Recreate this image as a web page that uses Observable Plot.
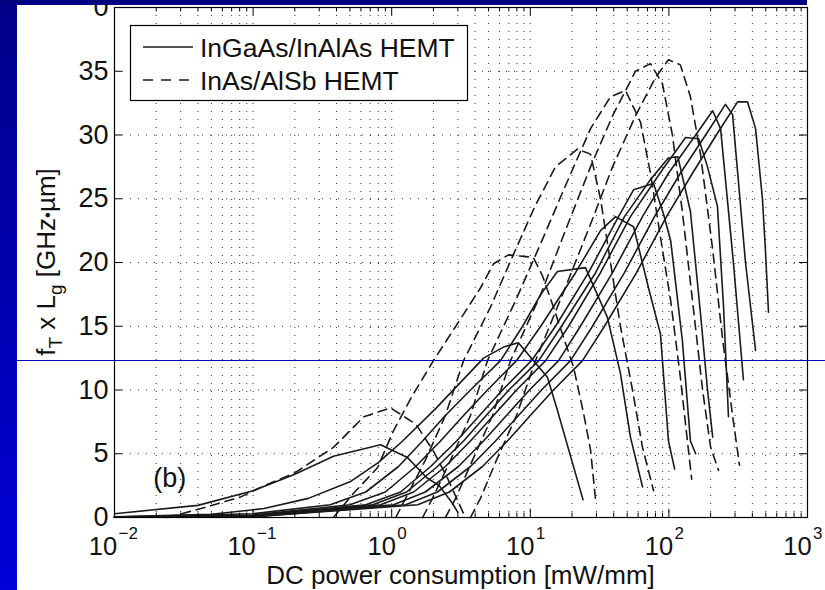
<!DOCTYPE html>
<html><head><meta charset="utf-8">
<script src="https://cdn.jsdelivr.net/npm/d3@7"></script>
<script src="https://cdn.jsdelivr.net/npm/@observablehq/plot@0.6"></script>
<style>
html,body{margin:0;padding:0;background:#fff;}
#wrap{position:relative;width:825px;height:590px;overflow:hidden;background:#fff;}
#stripe{position:absolute;left:0;top:0;width:17px;height:590px;background:linear-gradient(#000088,#0000d8);}
#banner{position:absolute;left:0;top:0;width:807px;height:5px;background:#000080;}
#hline{position:absolute;left:17px;top:359.5px;width:808px;height:1.4px;background:#0000c0;}
</style></head><body>
<div id="wrap"><div id="chart"></div><div id="stripe"></div><div id="banner"></div><div id="hline"></div></div>
<script>
// ---- InGaAs/InAlAs HEMT (solid) : [power mW/mm, fT x Lg GHz·µm]
const s1 = [[0.01,0.3],[0.04,0.95],[0.1,2.1],[0.2,3.4],[0.38,4.8],[0.83,5.7],[1.3,4.7],[1.8,3.1],[2.2,2.5],[2.75,1.1],[3.0,0.4]];
const s2 = [[0.01,0.05],[0.05,0.25],[0.12,0.7],[0.25,1.5],[0.5,2.8],[0.8,4.3],[1.2,6.0],[2.1,8.6],[4.6,12.5],[6.5,13.4],[8.2,13.7],[13.3,11.0],[15.7,8.4],[24,1.4]];
const s3 = [[0.01,0.03],[0.1,0.3],[0.36,1],[0.65,2],[1.12,4],[1.67,6],[2.44,8],[3.7,10],[6.1,12.3],[8.8,15],[11.9,17.5],[15.7,19.3],[25,19.6],[36,15.7],[44.7,11.3],[52.8,6.3],[64.5,2.4]];
const s4 = [[0.01,0.02],[0.1,0.2],[0.5,1],[0.9,2],[1.49,4],[2.25,6],[3.3,8],[4.91,10],[7.95,12.3],[11.9,15],[21.2,19.2],[32.1,22.5],[41.2,23.6],[55.6,22.8],[71.3,18.0],[86.9,14.4],[99.3,6.0],[110,3.8]];
const s5 = [[0.01,0.02],[0.1,0.15],[0.65,1],[1.16,2],[1.91,4],[2.94,6],[4.3,8],[6.3,10],[10.2,12.3],[15.2,15],[26.3,19.2],[43.3,23.6],[55.6,25.7],[77.5,26.2],[91.4,23.8],[103,21.7],[125,13.9],[143,6.0],[156,5.0]];
const s6 = [[0.01,0.02],[0.1,0.12],[0.73,1],[1.28,2],[2.14,4],[3.3,6],[4.8,8],[7.0,10],[11.5,12.3],[16.8,15],[29.6,19.2],[47.8,23.6],[73.6,26.5],[99,28.2],[116,28.3],[143,24],[169,16],[190,10],[207,6.3]];
const s7 = [[0.01,0.02],[0.1,0.1],[0.83,1],[1.44,2],[2.44,4],[3.7,6],[5.43,8],[7.95,10],[12.9,12.3],[18.9,15],[32.1,19.2],[52.8,23.6],[90,27.3],[132,29.8],[164,29.7],[190,27.5],[224,24.4],[248,16.5],[269,7.9]];
const s8 = [[0.01,0.02],[0.1,0.08],[1.03,1],[1.75,2],[3.03,4],[4.6,6],[6.73,8],[9.87,10],[16.0,12.3],[23.0,15],[39.2,19.2],[64.5,23.6],[99.3,27],[156,30],[207,31.9],[236,30.5],[292,20],[345,10.8]];
const s9 = [[0.01,0.02],[0.1,0.06],[1.26,1],[2.14,2],[3.7,4],[5.61,6],[8.22,8],[12.05,10],[19.5,12.3],[28.1,15],[47.8,19.2],[78.7,23.6],[121,27],[184,30],[256,32.4],[288,31.6],[357,20],[422,13.1]];
const s10 = [[0.01,0.02],[0.1,0.05],[1.54,1],[2.61,2],[4.52,4],[6.84,6],[10.0,8],[14.7,10],[23.8,12.3],[34.3,15],[58.4,19.2],[96.1,23.6],[148,27],[220,30],[313,32.6],[369,32.6],[422,30.5],[473,25],[497,21],[523,16.1]];
// ---- InAs/AlSb HEMT (dashed)
const d1 = [[0.024,0.0],[0.042,0.7],[0.081,1.6],[0.11,2.3],[0.2,3.5],[0.38,5.5],[0.63,7.9],[0.98,8.6],[1.5,7.3],[2.0,5.2],[2.5,3.2],[3.0,1.3],[3.4,0]];
const d2 = [[0.38,0],[0.53,1.9],[0.79,3.9],[1.03,6.8],[1.4,9.5],[2.0,12.3],[2.98,15.2],[4.37,18],[5.43,19.9],[6.96,20.6],[10.5,20.4],[12.2,19.0],[14.7,16.5],[17.4,14.1],[20.5,11.8],[24.2,8.2],[27.2,5.3],[29.5,1.5]];
const d3 = [[1.07,0],[1.26,1.5],[1.75,4.5],[2.44,8],[3.3,12.3],[5.16,16.5],[7.82,21],[10.9,24.5],[15.2,27.5],[21.9,28.9],[27.2,28.5],[32.1,25],[37.9,20],[44.7,15],[54.6,10],[64.5,5.5],[77.5,2.1]];
const d4 = [[1.67,0],[1.97,1.5],[2.66,4.5],[3.7,8],[4.91,12.3],[7.82,17],[11.9,21.5],[17.9,26],[27.2,30.5],[37.9,33],[48.6,33.5],[62.4,31],[73.6,27],[86.9,22],[103,17],[121,11],[136,6],[146,3.0]];
const d5 = [[2.44,0],[2.89,1.5],[3.83,4.5],[5.34,8],[7.2,12.3],[11.9,17.5],[17.9,22.5],[27.2,27.5],[39.2,31.5],[57.4,35],[73.6,35.6],[89.9,34],[106,30],[125,24],[148,17],[175,10],[200,5.5],[228,3.7]];
const d6 = [[3.7,0],[4.37,1.5],[5.7,4.5],[7.95,8],[10.9,12.3],[17.1,17.5],[27.2,23],[39.2,27.5],[57.4,31.5],[80,34.5],[99.3,35.9],[121,35.5],[143,33],[169,28.5],[207,21],[244,14],[288,8],[323,4.1]];

const solidSeries = [s1,s2,s3,s4,s5,s6,s7,s8,s9,s10];
const dashedSeries = [d1,d2,d3,d4,d5,d6];
const legendLabels = ["InGaAs/InAlAs HEMT","InAs/AlSb HEMT"];

const xMajorTicks = [0.01,0.1,1,10,100,1000];
const xExponents = ["\u22122","\u22121","0","1","2","3"];
const xMinorTicks = [0.02,0.03,0.04,0.05,0.06,0.07,0.08,0.09,0.2,0.3,0.4,0.5,0.6,0.7,0.8,0.9,2,3,4,5,6,7,8,9,20,30,40,50,60,70,80,90,200,300,400,500,600,700,800,900];
const yTicks = [0,5,10,15,20,25,30,35,40];
const yTickLabels = ["0","5","10","15","20","25","30","35","0"];
const xLabel = "DC power consumption [mW/mm]";
const panelTag = "(b)";

const solidRows = solidSeries.flatMap((pts,i)=>pts.map(([x,y])=>({x,y,k:i})));
const dashedRows = dashedSeries.flatMap((pts,i)=>pts.map(([x,y])=>({x,y,k:i})));

const FONT = "'Liberation Sans', Arial, Helvetica, sans-serif";
const FS = 27;

const chart = Plot.plot({
  width: 825, height: 590,
  marginLeft: 114, marginRight: 18, marginTop: 7, marginBottom: 73,
  x: {type: "log", domain: [0.01, 1000], axis: null},
  y: {domain: [0, 40], axis: null},
  style: {fontFamily: FONT, background: "white", overflow: "visible"},
  marks: [
    Plot.ruleX(xMajorTicks.concat(xMinorTicks), {stroke: "#333", strokeWidth: 1, strokeDasharray: "1,7"}),
    Plot.ruleY(yTicks, {stroke: "#333", strokeWidth: 1, strokeDasharray: "1,7"}),
    Plot.line(solidRows, {x: "x", y: "y", z: "k", stroke: "#1a1a1a", strokeWidth: 1.6}),
    Plot.line(dashedRows, {x: "x", y: "y", z: "k", stroke: "#1a1a1a", strokeWidth: 1.6, strokeDasharray: "9,6"}),
    Plot.ruleX(xMajorTicks, {y1: 0, y2: 0.65, stroke: "#000"}),
    Plot.ruleX(xMajorTicks, {y1: 40, y2: 39.35, stroke: "#000"}),
    Plot.ruleX(xMinorTicks, {y1: 0, y2: 0.35, stroke: "#000"}),
    Plot.ruleX(xMinorTicks, {y1: 40, y2: 39.65, stroke: "#000"}),
    Plot.ruleY(yTicks, {x1: 0.01, x2: 0.0114, stroke: "#000"}),
    Plot.ruleY(yTicks, {x1: 1000, x2: 875, stroke: "#000"}),
    Plot.frame({stroke: "#000", strokeWidth: 1.2}),
    Plot.text(yTicks, {x: 0.01, y: d => d, text: (d,i) => yTickLabels[i], textAnchor: "end", dx: -6, fontSize: FS, fill: "#111"}),
    Plot.text([panelTag], {x: 0.025, y: 3.1, text: d => d, fontSize: FS, fill: "#111"})
  ]
});
document.getElementById("chart").appendChild(chart);

const NS = "http://www.w3.org/2000/svg";
function el(parent, tag, attrs, txt) {
  const e = document.createElementNS(NS, tag);
  for (const k in attrs) e.setAttribute(k, attrs[k]);
  if (txt != null) e.textContent = txt;
  parent.appendChild(e);
  return e;
}
const xs = chart.scale("x"), ys = chart.scale("y");
const labG = el(chart, "g", {"font-family": FONT, fill: "#111", "text-anchor": "start"});
xMajorTicks.forEach((t,i) => {
  const px = xs.apply(t), py = ys.apply(0);
  const e = xExponents[i];
  const neg = e.length > 1;
  el(labG, "text", {x: px - (neg ? 11 : 9.5), y: py + 38, "font-size": 25.5, "text-anchor": "middle"}, "10");
  el(labG, "text", {x: px + (neg ? 4.5 : 6), y: py + 22, "font-size": 17, "text-anchor": "start"}, e);
});
el(labG, "text", {x: (xs.apply(0.01)+xs.apply(1000))/2, y: 584, "text-anchor": "middle", "font-size": 26}, xLabel);
const yl = el(labG, "text", {transform: `translate(55,${(ys.apply(0)+ys.apply(40))/2}) rotate(-90)`, "text-anchor": "middle", "font-size": 26});
el(yl, "tspan", {}, "f");
el(yl, "tspan", {dy: 7, "font-size": 19}, "T");
el(yl, "tspan", {dy: -7}, " x L");
el(yl, "tspan", {dy: 7, "font-size": 19}, "g");
el(yl, "tspan", {dy: -7}, " [GHz");
el(yl, "tspan", {dy: -2, "font-size": 17}, "\u2022");
el(yl, "tspan", {dy: 2}, "\u00B5m]");
const lg = el(chart, "g", {"font-family": FONT, "text-anchor": "start"});
el(lg, "rect", {x: 130.5, y: 25.5, width: 337, height: 75, fill: "#fff", stroke: "#000", "stroke-width": 1.2});
el(lg, "line", {x1: 143, x2: 193, y1: 47, y2: 47, stroke: "#1a1a1a", "stroke-width": 1.6});
el(lg, "line", {x1: 143, x2: 193, y1: 80, y2: 80, stroke: "#1a1a1a", "stroke-width": 1.6, "stroke-dasharray": "10,8"});
el(lg, "text", {x: 200, y: 57, "font-size": 26.5, fill: "#111"}, legendLabels[0]);
el(lg, "text", {x: 200, y: 90, "font-size": 26.5, fill: "#111"}, legendLabels[1]);
</script>
</body></html>
